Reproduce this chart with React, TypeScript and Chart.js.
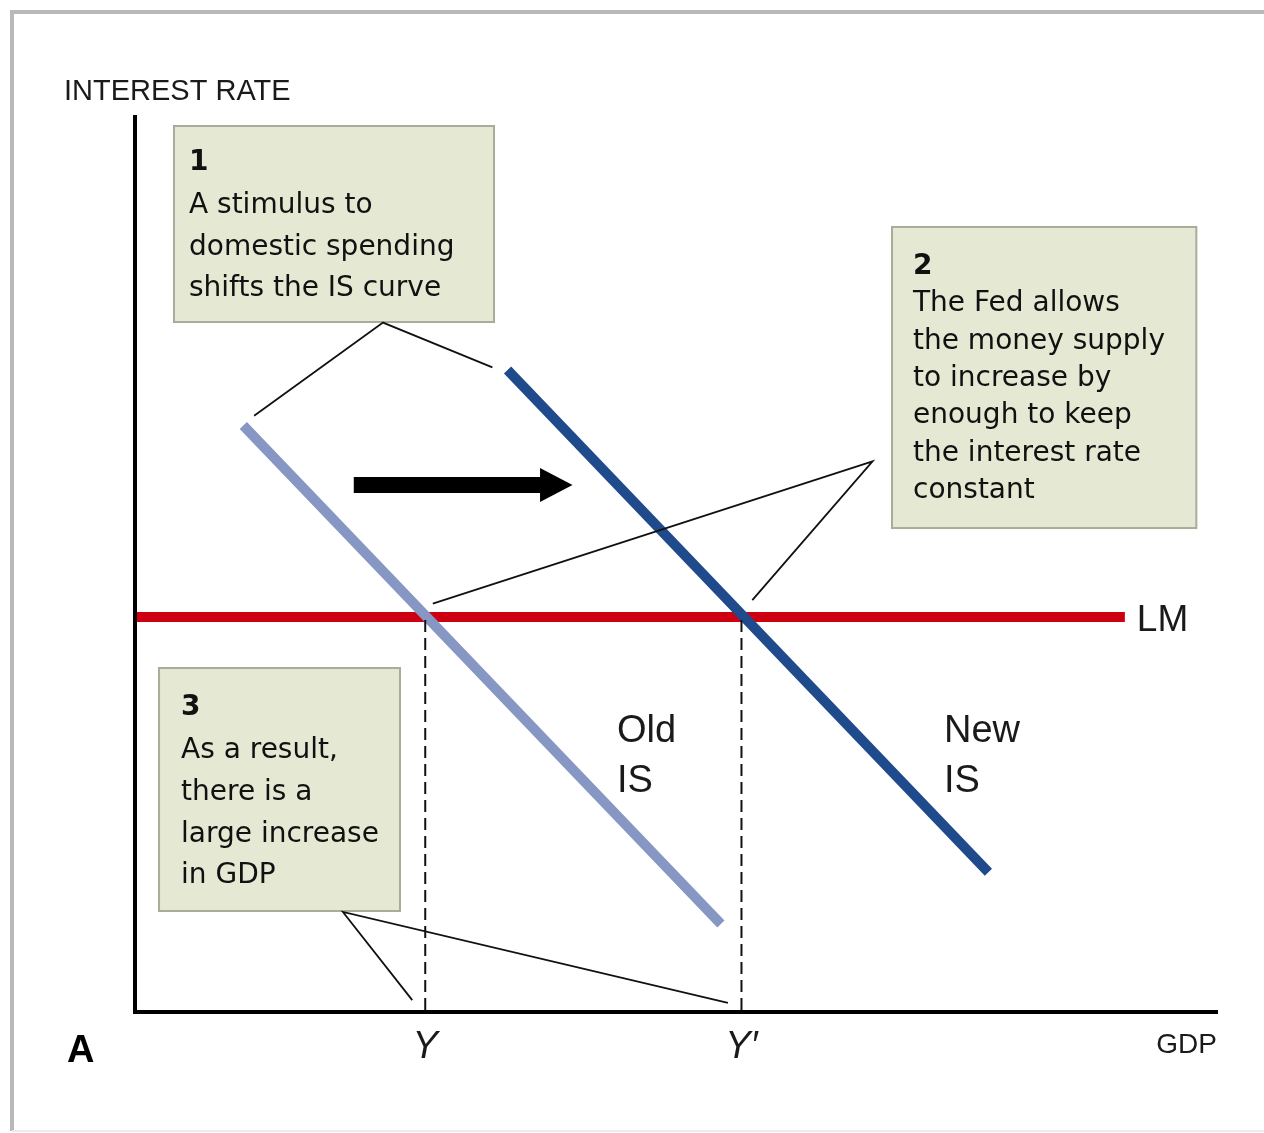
import React, { useEffect, useRef } from "react";
import { Chart, registerables } from "chart.js";

Chart.register(...registerables);

// ---- Data (x: GDP, y: interest rate, arbitrary 0-100 units) ----
const oldIS = [
  { x: 10.0, y: 65.3 },
  { x: 54.1, y: 9.6 },
];
const newIS = [
  { x: 34.4, y: 71.5 },
  { x: 78.8, y: 15.4 },
];
const lmRate = 43.9;
const lmXRange = [0, 91.4];
const yOld = 26.8; // Y
const yNew = 56.0; // Y'
const xTickLabels = ["Y", "Y\u2032"];

// leader lines for annotations
const leader1 = [
  { x: 11.0, y: 66.4 },
  { x: 22.9, y: 76.8 },
  { x: 33.0, y: 71.8 },
];
const leader2 = [
  { x: 27.5, y: 45.4 },
  { x: 68.1, y: 61.3 },
  { x: 57.0, y: 45.8 },
];
const leader3 = [
  { x: 25.6, y: 1.1 },
  { x: 19.2, y: 10.95 },
  { x: 54.75, y: 0.8 },
];

// annotation boxes
const box1Text = ["A stimulus to", "domestic spending", "shifts the IS curve"];
const box2Text = [
  "The Fed allows",
  "the money supply",
  "to increase by",
  "enough to keep",
  "the interest rate",
  "constant",
];
const box3Text = ["As a result,", "there is a", "large increase", "in GDP"];

const boxes = [
  { x0: 3.6, x1: 33.15, yT: 98.77, yB: 76.87, num: "1", lines: box1Text, pad: 15, numOff: 37, lineOff: 80, step: 41.5 },
  { x0: 69.9, x1: 98.0, yT: 87.49, yB: 53.85, num: "2", lines: box2Text, pad: 21, numOff: 40, lineOff: 77, step: 37.4 },
  { x0: 2.22, x1: 24.47, yT: 38.21, yB: 11.06, num: "3", lines: box3Text, pad: 22, numOff: 40, lineOff: 83, step: 41.7 },
];

const arrow = { x0: 20.2, xHead: 37.4, xTip: 40.4, y: 58.66 };

const OLD_BLUE = "#8797c3";
const NEW_BLUE = "#1f4a8b";
const RED = "#cc0010";

export default function App() {
  const ref = useRef<HTMLCanvasElement | null>(null);

  useEffect(() => {
    document.body.style.margin = "0";
    const canvas = ref.current!;
    const decor = {
      id: "decor",
      beforeDatasetsDraw(chart: any) {
        const ctx = chart.ctx as CanvasRenderingContext2D;
        const xs = chart.scales.x;
        const ys = chart.scales.y;
        ctx.save();
        // outer frame
        ctx.strokeStyle = "#b9b9b9";
        ctx.lineWidth = 4;
        ctx.beginPath();
        ctx.moveTo(1270, 12);
        ctx.lineTo(12, 12);
        ctx.lineTo(12, 1131);
        ctx.stroke();
        ctx.strokeStyle = "#ececec";
        ctx.lineWidth = 2;
        ctx.beginPath();
        ctx.moveTo(12, 1131);
        ctx.lineTo(1270, 1131);
        ctx.stroke();
        // boxes
        for (const b of boxes) {
          const l = xs.getPixelForValue(b.x0);
          const r = xs.getPixelForValue(b.x1);
          const t = ys.getPixelForValue(b.yT);
          const bt = ys.getPixelForValue(b.yB);
          ctx.fillStyle = "#e5e8d3";
          ctx.fillRect(l, t, r - l, bt - t);
          ctx.strokeStyle = "#a9ac99";
          ctx.lineWidth = 2;
          ctx.strokeRect(l, t, r - l, bt - t);
        }
        ctx.restore();
      },
      afterDatasetsDraw(chart: any) {
        const ctx = chart.ctx as CanvasRenderingContext2D;
        const xs = chart.scales.x;
        const ys = chart.scales.y;
        const x0 = xs.getPixelForValue(0);
        const y0 = ys.getPixelForValue(0);
        const area = chart.chartArea;
        ctx.save();
        // axes
        ctx.strokeStyle = "#000";
        ctx.lineWidth = 4;
        ctx.beginPath();
        ctx.moveTo(x0, area.top);
        ctx.lineTo(x0, y0 + 2);
        ctx.lineTo(area.right, y0 + 2);
        ctx.stroke();
        // arrow
        const ay = ys.getPixelForValue(arrow.y);
        const ax0 = xs.getPixelForValue(arrow.x0);
        const axh = xs.getPixelForValue(arrow.xHead);
        const axt = xs.getPixelForValue(arrow.xTip);
        ctx.fillStyle = "#000";
        ctx.beginPath();
        ctx.moveTo(ax0, ay - 8);
        ctx.lineTo(axh, ay - 8);
        ctx.lineTo(axh, ay - 17);
        ctx.lineTo(axt, ay);
        ctx.lineTo(axh, ay + 17);
        ctx.lineTo(axh, ay + 8);
        ctx.lineTo(ax0, ay + 8);
        ctx.closePath();
        ctx.fill();
        // box texts
        ctx.fillStyle = "#111";
        ctx.textAlign = "left";
        ctx.textBaseline = "middle";
        for (const b of boxes) {
          const l = xs.getPixelForValue(b.x0);
          const t = ys.getPixelForValue(b.yT);
          ctx.font = "bold 28px 'DejaVu Sans'";
          ctx.fillText(b.num, l + b.pad, t + b.numOff);
          ctx.font = "28px 'DejaVu Sans'";
          b.lines.forEach((s, i) => ctx.fillText(s, l + b.pad, t + b.lineOff + i * b.step));
        }
        // axis titles and labels
        ctx.fillStyle = "#1a1a1a";
        ctx.textBaseline = "alphabetic";
        ctx.font = "29px 'Liberation Sans'";
        ctx.fillText("INTEREST RATE", 64, 100);
        ctx.font = "28px 'Liberation Sans'";
        ctx.textAlign = "right";
        ctx.fillText("GDP", area.right - 1, y0 + 43);
        ctx.textAlign = "left";
        ctx.font = "bold 38px 'Liberation Sans'";
        ctx.fillStyle = "#000";
        ctx.fillText("A", 67, 1062);
        ctx.fillStyle = "#1a1a1a";
        ctx.font = "37px 'Liberation Sans'";
        ctx.fillText("LM", xs.getPixelForValue(lmXRange[1]) + 12, ys.getPixelForValue(lmRate) + 14);
        ctx.font = "38px 'Liberation Sans'";
        ctx.fillText("Old", 617, 742);
        ctx.fillText("IS", 617, 792);
        ctx.fillText("New", 944, 742);
        ctx.fillText("IS", 944, 792);
        ctx.font = "italic 38px 'Liberation Sans'";
        ctx.textAlign = "center";
        ctx.fillText(xTickLabels[0], xs.getPixelForValue(yOld), y0 + 48);
        ctx.fillText(xTickLabels[1], xs.getPixelForValue(yNew), y0 + 48);
        ctx.restore();
      },
    };

    const thin = { borderColor: "#111", borderWidth: 1.8, pointRadius: 0, showLine: true, fill: false };
    const chart = new Chart(canvas, {
      type: "scatter",
      data: {
        datasets: [
          { ...thin, data: leader1 },
          { ...thin, data: leader2 },
          { ...thin, data: leader3 },
          {
            data: [{ x: yOld, y: 0 }, { x: yOld, y: lmRate }],
            borderColor: "#111", borderWidth: 2, borderDash: [12, 6], pointRadius: 0, showLine: true,
          },
          {
            data: [{ x: yNew, y: 0 }, { x: yNew, y: lmRate }],
            borderColor: "#111", borderWidth: 2, borderDash: [12, 6], pointRadius: 0, showLine: true,
          },
          { data: newIS, borderColor: NEW_BLUE, borderWidth: 10, pointRadius: 0, showLine: true },
          { data: oldIS, borderColor: OLD_BLUE, borderWidth: 10, pointRadius: 0, showLine: true },
          {
            data: [{ x: lmXRange[0], y: lmRate }, { x: lmXRange[1], y: lmRate }],
            borderColor: RED, borderWidth: 10, pointRadius: 0, showLine: true,
          },
        ],
      },
      options: {
        animation: false,
        responsive: false,
        devicePixelRatio: 1,
        layout: { padding: { left: 135, top: 115, right: 46, bottom: 123 } },
        plugins: { legend: { display: false }, tooltip: { enabled: false }, title: { display: false } },
        scales: {
          x: { type: "linear", min: 0, max: 100, display: false },
          y: { type: "linear", min: 0, max: 100, display: false },
        },
      },
      plugins: [decor],
    });
    return () => chart.destroy();
  }, []);

  return (
    <div style={{ width: 1264, height: 1133, background: "#fff" }}>
      <canvas ref={ref} width={1264} height={1133} style={{ display: "block" }} />
    </div>
  );
}
